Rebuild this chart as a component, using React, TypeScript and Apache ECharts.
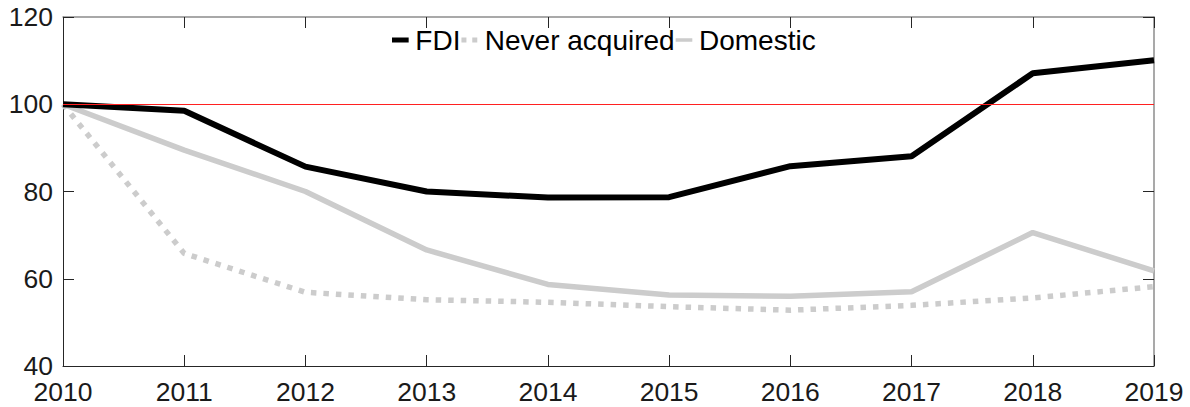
import React, { useEffect, useRef } from "react";
import * as echarts from "echarts";

const years = ["2010", "2011", "2012", "2013", "2014", "2015", "2016", "2017", "2018", "2019"];
const fdi = [100, 98.5, 85.7, 80.0, 78.6, 78.7, 85.8, 88.1, 107.1, 110.1];
const neverAcquired = [100, 65.8, 56.9, 55.2, 54.6, 53.6, 52.8, 53.9, 55.6, 58.2];
const domestic = [100, 89.5, 80.0, 66.6, 58.7, 56.3, 56.0, 57.0, 70.6, 61.8];
const yTicks = { min: 40, max: 120, interval: 20 };
const baseline = 100;

const FONT = "'Liberation Sans', Arial, Helvetica, sans-serif";

export default function App() {
  const ref = useRef<HTMLDivElement>(null);
  useEffect(() => {
    document.body.style.margin = "0";
    const chart = echarts.init(ref.current!, null, { renderer: "svg" });
    const dark = "#262626";
    const gray = "#8c8c8c";
    chart.setOption({
      animation: false,
      backgroundColor: "#ffffff",
      textStyle: { fontFamily: FONT },
      grid: { left: 63, right: 36, top: 17, bottom: 41, containLabel: false },
      legend: {
        top: 21,
        left: 387,
        itemWidth: 20,
        itemHeight: 5,
        itemGap: 1,
        textStyle: { fontSize: 28, color: "#000", fontFamily: FONT },
        data: [
          { name: "FDI", icon: "path://M0,0 L20,0 L20,6 L0,6 Z" },
          { name: "Never acquired", icon: "path://M0,0 L6,0 L6,6 L0,6 Z M13,0 L19,0 L19,6 L13,6 Z M19,0 L20,0 L20,0.01 L19,0.01 Z" },
          { name: "Domestic", icon: "path://M0,1 L20,1 L20,5 L0,5 Z M0,0 L0.01,0 L0.01,6 L0,6 Z" },
        ],
      },
      xAxis: [
        {
          type: "category",
          data: years,
          boundaryGap: false,
          position: "bottom",
          axisLine: { lineStyle: { color: dark, width: 1 } },
          axisTick: { inside: true, length: 11, alignWithLabel: true, lineStyle: { color: dark } },
          axisLabel: { fontSize: 26.5, lineHeight: 20, color: "#1a1a1a", margin: 16, fontFamily: FONT },
          splitLine: { show: false },
        },
        {
          type: "category",
          data: years,
          boundaryGap: false,
          position: "top",
          axisLine: { lineStyle: { color: gray, width: 1.5 } },
          axisTick: { inside: true, length: 11, lineStyle: { color: dark } },
          axisLabel: { show: false },
          splitLine: { show: false },
        },
      ],
      yAxis: [
        {
          type: "value",
          min: yTicks.min,
          max: yTicks.max,
          interval: yTicks.interval,
          position: "left",
          axisLine: { show: true, lineStyle: { color: dark, width: 1 } },
          axisTick: { show: true, inside: true, length: 11, lineStyle: { color: dark } },
          axisLabel: { fontSize: 26.5, lineHeight: 20, color: "#1a1a1a", margin: 10, fontFamily: FONT },
          splitLine: { show: false },
        },
        {
          type: "value",
          min: yTicks.min,
          max: yTicks.max,
          interval: yTicks.interval,
          position: "right",
          axisLine: { show: true, lineStyle: { color: gray, width: 1.5 } },
          axisTick: { show: true, inside: true, length: 11, lineStyle: { color: dark } },
          axisLabel: { show: false },
          splitLine: { show: false },
        },
      ],
      series: [
        {
          name: "FDI",
          type: "line",
          data: fdi,
          showSymbol: false,
          symbol: "none",
          color: "#000000",
          lineStyle: { color: "#000000", width: 6, cap: "butt" },
          z: 3,
          markLine: {
            silent: true,
            symbol: "none",
            label: { show: false },
            lineStyle: { color: "#ff2020", width: 1, type: "solid" },
            data: [{ yAxis: baseline }],
          },
        },
        {
          name: "Never acquired",
          type: "line",
          data: neverAcquired,
          showSymbol: false,
          symbol: "none",
          color: "#cccccc",
          lineStyle: { color: "#cccccc", width: 5.5, type: [5.5, 7], cap: "butt" },
          z: 2,
        },
        {
          name: "Domestic",
          type: "line",
          data: domestic,
          showSymbol: false,
          symbol: "none",
          color: "#cccccc",
          lineStyle: { color: "#cccccc", width: 5.5, cap: "butt" },
          z: 2,
        },
      ],
    });
    return () => chart.dispose();
  }, []);
  return <div ref={ref} style={{ width: 1190, height: 407 }} />;
}
